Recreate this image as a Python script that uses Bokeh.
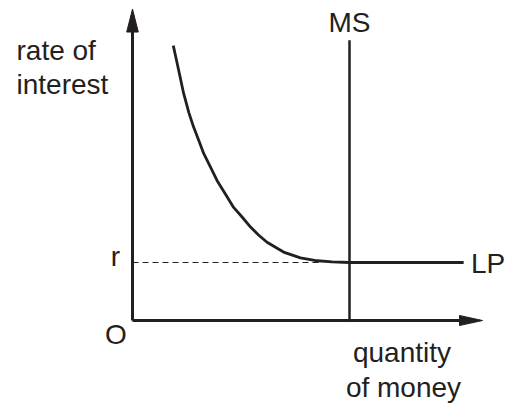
from bokeh.plotting import figure
from bokeh.models import Range1d
from bokeh.core.properties import value
from bokeh.embed import file_html
from bokeh.resources import INLINE

# ---- data (abstract units: quantity of money / rate of interest) ----
lp_q = [0.94, 1.03, 1.18, 1.30, 1.41, 1.53, 1.64, 1.80, 1.95, 2.14, 2.33, 2.53, 2.72,
        2.91, 3.10, 3.48, 3.87, 4.26, 4.60, 5.00, 7.63]
lp_r = [4.74, 4.43, 3.91, 3.58, 3.33, 3.10, 2.88, 2.64, 2.41, 2.18, 1.95, 1.78, 1.61,
        1.47, 1.35, 1.18, 1.08, 1.03, 1.01, 1.00, 1.00]
ms_q = 5.0          # money supply (vertical)
ms_top = 4.83
r_level = 1.0       # equilibrium rate
r_dash_end = 4.33
x_axis_end = 8.065
y_axis_end = 5.37

INK = "#231f20"
FONT = value("Liberation Sans")
FS = "28px"

# pixel scale of data units
PX_X = 43.4
PX_Y = 58.0
W, H = 505, 403
OX, OY = 132, 320   # pixel position of the origin

p = figure(width=W, height=H, output_backend="svg", toolbar_location=None,
           x_range=Range1d(-OX / PX_X, (W - OX) / PX_X),
           y_range=Range1d(-(H - OY) / PX_Y, OY / PX_Y),
           min_border=0, outline_line_color=None)
p.axis.visible = False
p.grid.visible = False
p.background_fill_color = "white"
p.border_fill_color = "white"

# axes lines
x_head_len = 23 / PX_X
x_head_half = 5 / PX_Y
y_head_len = 23 / PX_Y
y_head_half = 5.8 / PX_X
p.line([0, x_axis_end - x_head_len], [0, 0], line_color=INK, line_width=3)
p.line([0, 0], [0, y_axis_end - y_head_len], line_color=INK, line_width=3)
p.patch([x_axis_end - x_head_len, x_axis_end, x_axis_end - x_head_len],
        [x_head_half, 0, -x_head_half], fill_color=INK, line_color=INK, line_width=1)
p.patch([-y_head_half, 0, y_head_half],
        [y_axis_end - y_head_len, y_axis_end, y_axis_end - y_head_len],
        fill_color=INK, line_color=INK, line_width=1)

# dashed r line
p.line([0, r_dash_end], [r_level, r_level], line_color=INK, line_width=1.2, line_dash="6 4")

# MS
p.line([ms_q, ms_q], [0, ms_top], line_color=INK, line_width=2.5)

# LP curve
p.line(lp_q, lp_r, line_color=INK, line_width=2.8, line_join="round")

def txt(x, y, s, align="left"):
    p.text([x], [y], text=[s], text_font=FONT, text_font_size=FS, text_color=INK,
           text_align=align, text_baseline="alphabetic")

txt(-2.673, 4.66, "rate of")
txt(-2.673, 4.07, "interest")
txt(ms_q, 5.14, "MS", "center")
txt(-0.392, 1.10, "r", "center")
txt(7.80, 0.98, "LP")
txt(-0.38, -0.24, "O", "center")
txt(6.21, -0.55, "quantity", "center")
txt(6.244, -1.16, "of money", "center")

open("out.html", "w").write(file_html(p, INLINE))
